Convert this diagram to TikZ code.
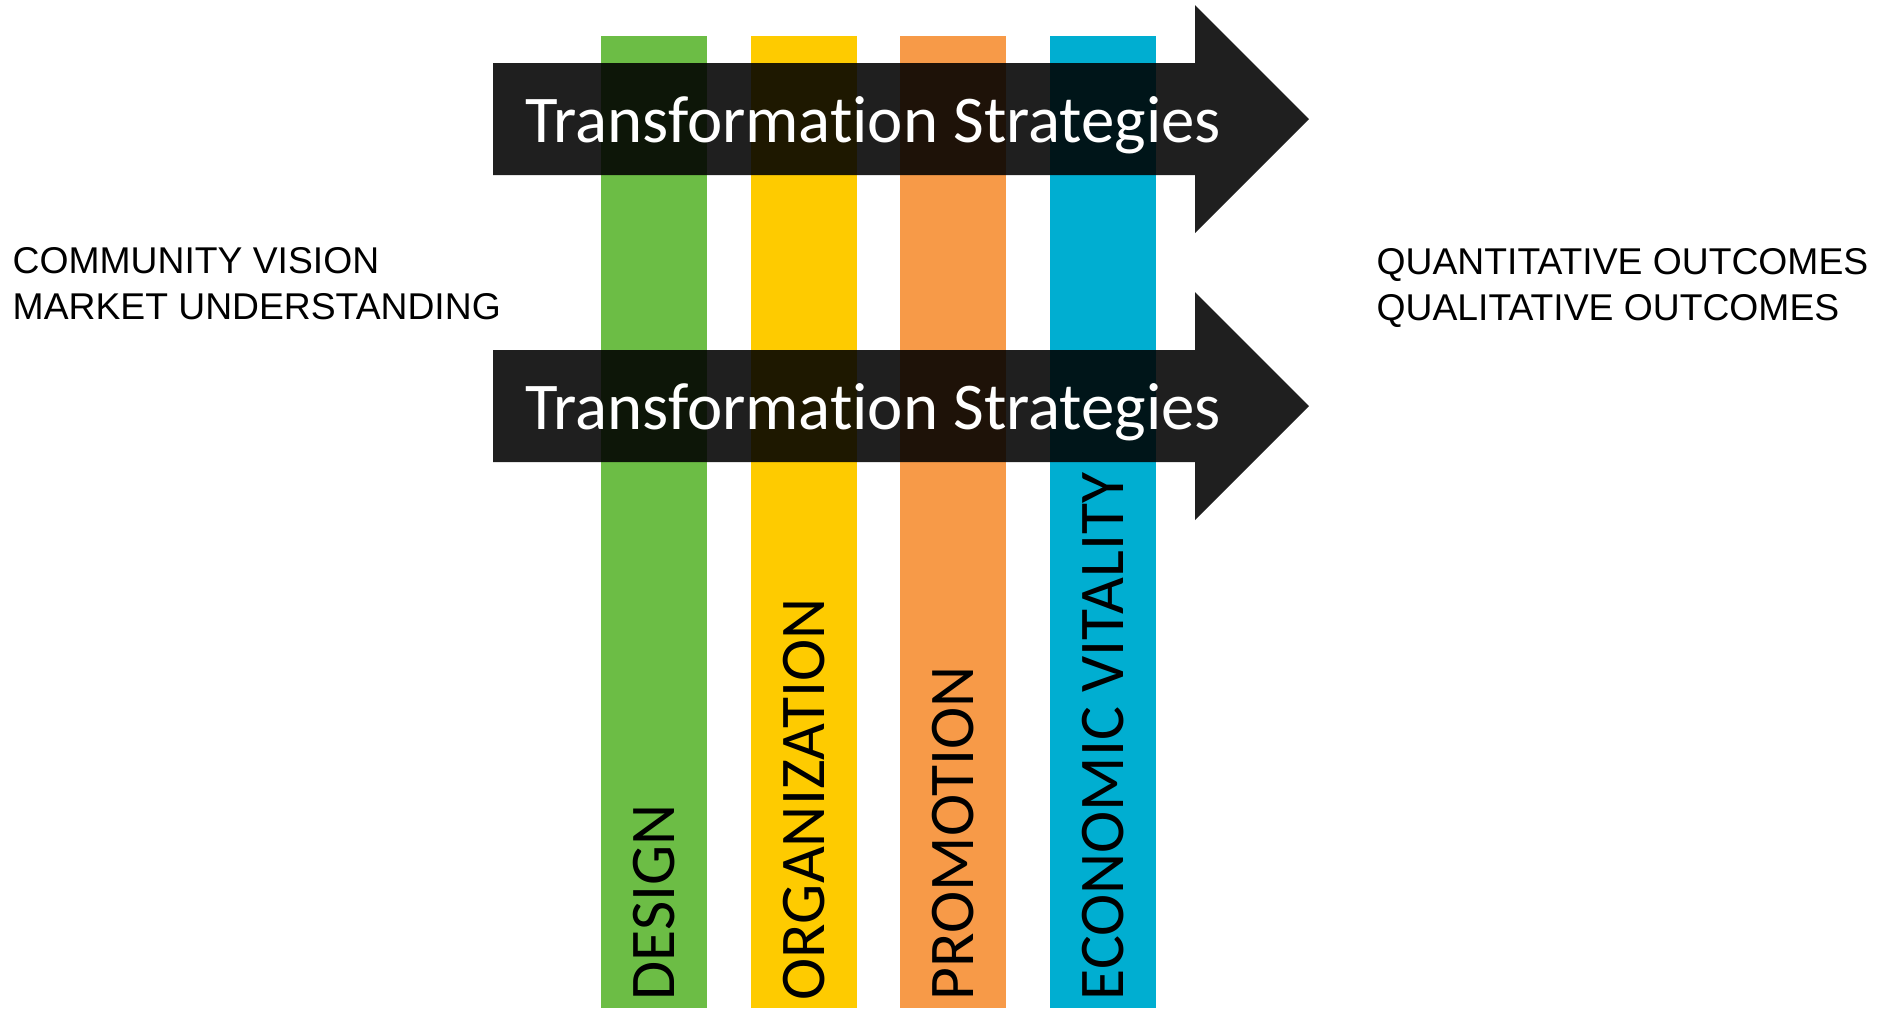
\documentclass[tikz,border=0pt]{standalone}
\usepackage{fontspec}
\setmainfont{Carlito}[Ligatures=NoCommon]
\newfontfamily\arialfont{Liberation Sans}
\usetikzlibrary{positioning}

\definecolor{dgreen}{RGB}{108,189,69}
\definecolor{dyellow}{RGB}{254,203,0}
\definecolor{dorange}{RGB}{247,154,72}
\definecolor{dblue}{RGB}{0,174,209}

\begin{document}
\begin{tikzpicture}[x=0.01cm,y=-0.01cm,node distance=1.495cm,
    bar/.style={inner sep=0pt,minimum width=1.06cm,minimum height=9.72cm},
    pillar/.style={rotate=90,anchor=west,inner sep=0pt,font=\fontsize{18.1}{20}\selectfont},
    band/.style={fill=black,fill opacity=0.88},
    strat/.style={anchor=base,inner sep=0pt,text=white,font=\fontsize{19}{22}\selectfont},
    side/.style={anchor=north west,inner sep=0pt,align=left,font=\arialfont\fontsize{10.6}{12.9}\selectfont}]

            \useasboundingbox (0,0) rectangle (1893,1008);

            % the four pillars
            \node[bar, fill=dgreen]   (1) at (654,522) {};
            \node[bar, fill=dyellow]  (2) [right of = 1] {};
            \node[bar, fill=dorange]  (3) [right of = 2] {};
            \node[bar, fill=dblue]    (4) [right of = 3] {};

            \node[pillar] (d) at ([yshift=2.3pt]1.south) {DESIGN};
            \node[pillar] (o) at ([yshift=2.3pt]2.south) {ORGANIZATION};
            \node[pillar] (p) at ([yshift=2.3pt]3.south) {PROMOTION};
            \node[pillar] (e) at ([yshift=2.3pt]4.south) {ECONOMIC VITALITY};

            % the two arrows
            \fill[band] (493,63) -- (1195,63) -- (1195,5) -- (1309,119)
                -- (1195,233) -- (1195,175) -- (493,175) -- cycle;
            \fill[band] (493,350) -- (1195,350) -- (1195,292) -- (1309,406)
                -- (1195,520) -- (1195,462) -- (493,462) -- cycle;

            \node[strat] (s1) at (873,142) {Transformation Strategies};
            \node[strat] (s2) at (873,429) {Transformation Strategies};

            \node[side] (in)  at (12,247)   {COMMUNITY VISION\\MARKET UNDERSTANDING};
            \node[side] (out) at (1376,248) {QUANTITATIVE OUTCOMES\\QUALITATIVE OUTCOMES};
        \end{tikzpicture}
\end{document}
